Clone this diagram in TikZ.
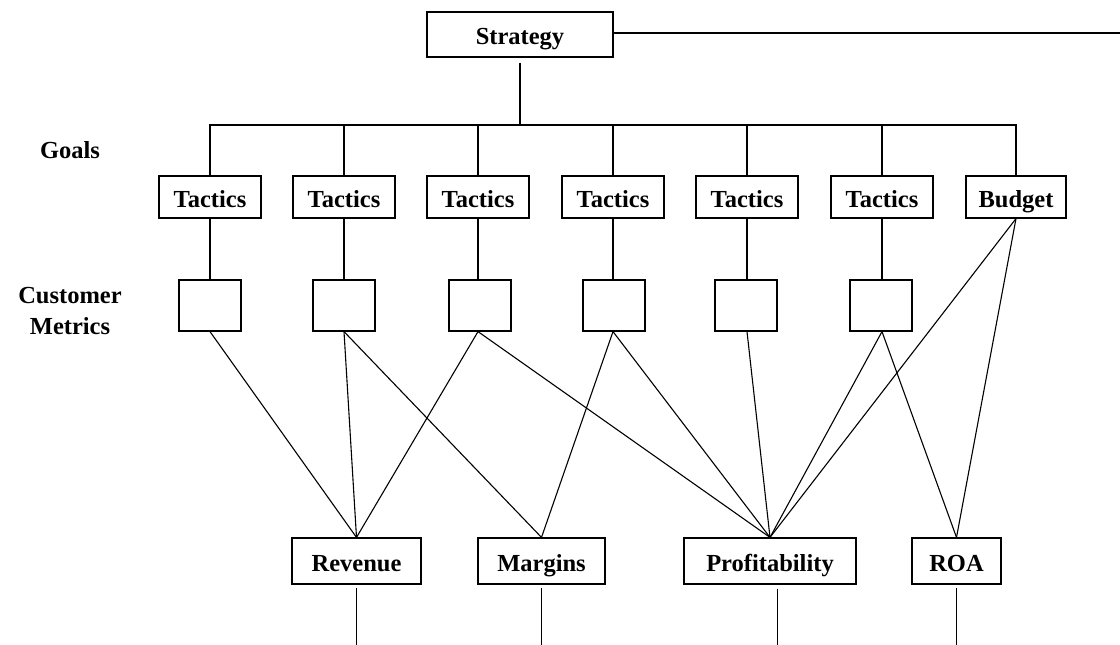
\documentclass[tikz,border=0pt]{standalone}
\usepackage{fontspec}
\setmainfont{Liberation Serif}
\usetikzlibrary{positioning}

\begin{document}
\begin{tikzpicture}[x=1pt, y=-1pt]
\tikzstyle{box} = [rectangle, draw, line width=1.2pt, inner sep=0pt, minimum height=42pt, text height=21pt, text depth=1pt, text centered, font=\fontsize{24.5}{28}\selectfont\bfseries]
\tikzstyle{metric} = [rectangle, draw, line width=1.2pt, minimum width=62pt, minimum height=51pt]
\tikzstyle{result} = [box, minimum height=46pt]
\tikzstyle{tag} = [align=center, font=\fontsize{24.5}{31}\selectfont\bfseries]
\tikzstyle{link} = [line width=1.1pt]

\useasboundingbox (0,0) rectangle (1120,645);

\node[box, minimum width=186pt, minimum height=45pt] (strategy) at (520,34.5) {Strategy};
\node[tag] (goals) at (70,150) {Goals};
\node[tag] (custmetrics) at (70,311) {Customer\\Metrics};

% goals row
\node[box, minimum width=102pt] (tac1) at (210,197) {Tactics};
\node[box, minimum width=102pt] (tac2) at (344,197) {Tactics};
\node[box, minimum width=102pt] (tac3) at (478,197) {Tactics};
\node[box, minimum width=102pt] (tac4) at (613,197) {Tactics};
\node[box, minimum width=102pt] (tac5) at (747,197) {Tactics};
\node[box, minimum width=102pt] (tac6) at (882,197) {Tactics};
\node[box, minimum width=100pt] (budget) at (1016,197) {Budget};

% customer metrics row
\node[metric] (met1) at (210,305.5) {};
\node[metric] (met2) at (344,305.5) {};
\node[metric] (met3) at (480,305.5) {};
\node[metric] (met4) at (614,305.5) {};
\node[metric] (met5) at (746,305.5) {};
\node[metric] (met6) at (881,305.5) {};

% financial row
\node[result, minimum width=129pt] (revenue) at (356.5,561) {Revenue};
\node[result, minimum width=127pt] (margins) at (541.5,561) {Margins};
\node[result, minimum width=172pt] (profit) at (770,561) {Profitability};
\node[result, minimum width=89pt] (roa) at (956.5,561) {ROA};

\coordinate (bus) at (520,125);
\coordinate (edge) at (1120,33);
\coordinate (floor) at (0,645);

\draw[link] (strategy.east |- edge) -- (edge);
\draw[link, shorten <=5pt] (strategy.south) -- (bus);
\draw[link] (tac1.north) -- (tac1.north |- bus) -- (budget.north |- bus) -- (budget.north);
\draw[link] (tac2.north) -- (tac2.north |- bus);
\draw[link] (tac3.north) -- (tac3.north |- bus);
\draw[link] (tac4.north) -- (tac4.north |- bus);
\draw[link] (tac5.north) -- (tac5.north |- bus);
\draw[link] (tac6.north) -- (tac6.north |- bus);

\draw[link] (tac1.south) -- (met1.north -| tac1.south);
\draw[link] (tac2.south) -- (met2.north -| tac2.south);
\draw[link] (tac3.south) -- (met3.north -| tac3.south);
\draw[link] (tac4.south) -- (met4.north -| tac4.south);
\draw[link] (tac5.south) -- (met5.north -| tac5.south);
\draw[link] (tac6.south) -- (met6.north -| tac6.south);

\draw[link] (met1.south -| tac1.south) -- (revenue.north);
\draw[link] (met2.south -| tac2.south) -- (revenue.north);
\draw[link] (met2.south -| tac2.south) -- (margins.north);
\draw[link] (met3.south -| tac3.south) -- (revenue.north);
\draw[link] (met3.south -| tac3.south) -- (profit.north);
\draw[link] (met4.south -| tac4.south) -- (margins.north);
\draw[link] (met4.south -| tac4.south) -- (profit.north);
\draw[link] (met5.south -| tac5.south) -- (profit.north);
\draw[link] (met6.south -| tac6.south) -- (profit.north);
\draw[link] (met6.south -| tac6.south) -- (roa.north);
\draw[link] (budget.south) -- (profit.north);
\draw[link] (budget.south) -- (roa.north);

\draw[link, shorten <=3pt] (revenue.south) -- (revenue.south |- floor);
\draw[link, shorten <=3pt] (margins.south) -- (margins.south |- floor);
\draw[link, shorten <=4pt] ([xshift=7.5pt]profit.south) -- ([xshift=7.5pt]profit.south |- floor);
\draw[link, shorten <=3pt] (roa.south) -- (roa.south |- floor);
\end{tikzpicture}
\end{document}
